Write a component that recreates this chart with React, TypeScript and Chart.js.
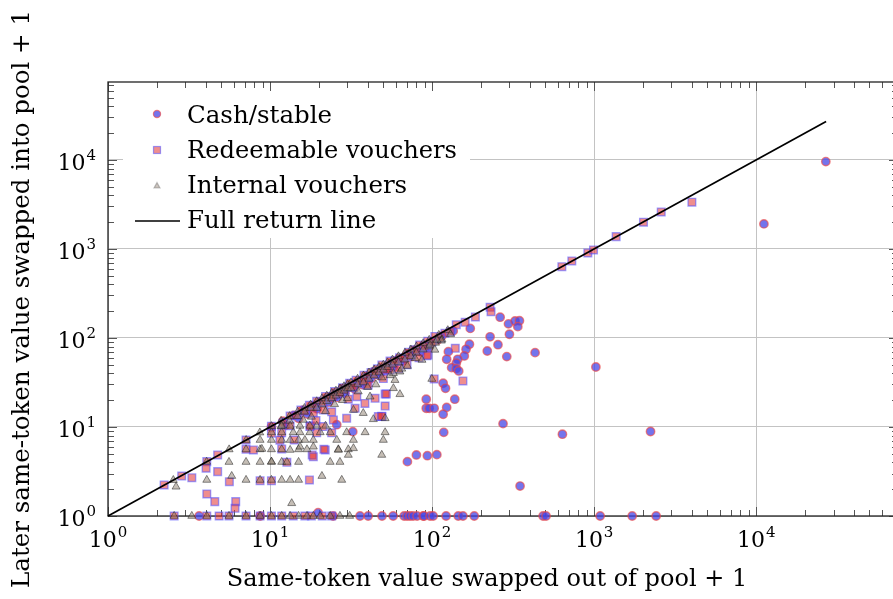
import React, { useEffect, useRef } from 'react';
import { Chart, registerables } from 'chart.js';

Chart.register(...registerables);

// ---------- axis / text ----------
const X_MIN = 1;
const X_MAX = 75000;
const Y_MIN = 1;
const Y_MAX = 75000;
const decadeExponents = [0, 1, 2, 3, 4];
const tickMultipliers = [1, 2, 3, 4, 5, 6, 7, 8, 9];
const xTitle = 'Same-token value swapped out of pool + 1';
const yTitle = 'Later same-token value swapped into pool + 1';
const legendLabels = ['Cash/stable', 'Redeemable vouchers', 'Internal vouchers', 'Full return line'];

// ---------- Cash/stable ----------
const cashOffLine: [number, number][] = [
  [263, 171], [296, 144], [325, 155], [346, 156], [338, 134], [172, 128], [300, 110], [228, 103],
  [255, 84], [219, 71.4], [289, 61.7], [432, 68.4], [170, 85], [162, 74.6], [126, 70.2], [158, 62.8],
  [144, 57.6], [123, 57.6], [141, 52], [132, 46.4], [141, 45.2], [146, 42.6], [117, 31], [121, 27.2],
  [92, 20.5], [138, 20.5], [92, 16.2], [96, 16.2], [103, 16.2], [123, 16.6], [117, 13.9], [118, 8.7],
  [274, 10.9], [1025, 47.2], [637, 8.3], [2228, 8.9], [70.4, 4.08], [80, 4.85], [93.5, 4.76], [107, 4.89],
  [349, 2.17], [26900, 9570], [11160, 1910], [32.4, 8.86], [25.8, 10.6], [19.8, 1.09],
];
const cashNearLine: [number, number][] = [
  [10.2, 10], [12, 11.6], [14, 13.5], [16, 15.5], [18, 17.3], [20, 19], [22.5, 21.5], [25, 24],
  [28, 27], [31, 29.5], [35, 33], [39, 37], [44, 42], [49, 46], [55, 52], [62, 58], [70, 66],
  [78, 73], [88, 82], [98, 90],
];
const cashBand: [number, number][] = [
  [12.5, 10.5], [15, 12.5], [17, 14], [19.5, 16], [23, 19], [26, 21.5], [29, 24], [33, 27], [37, 30],
  [42, 35], [47, 38], [53, 44], [58, 47], [66, 55], [75, 62], [85, 70], [95, 78], [108, 95], [115, 105],
  [135, 120],
];
const cashZeroReturnX = [
  3.65, 8.7, 24.5, 35.9, 40.3, 49.1, 57.5, 67.2, 70.1, 73.1, 76.3, 80.8, 88, 89.3, 97.2, 101.5,
  122, 145, 155, 182, 484, 505, 1089, 1717, 2414,
];

// ---------- Redeemable vouchers ----------
const redeemableOnLine: [number, number][] = [
  [2.22, 2.23], [2.85, 2.81], [4.07, 4.08], [4.75, 4.85], [7.11, 7.14], [10.2, 10.2], [13.3, 13.3],
  [15.5, 15.5], [17.5, 17.5], [19.4, 19.4], [22, 22], [25, 25], [28, 27.5], [31, 31], [34, 33.5],
  [38, 38], [42, 41], [46, 45], [49, 49.7], [55, 55], [63, 60], [71.5, 69], [76.9, 73.5], [83.8, 83.5],
  [94, 92], [104, 104], [120, 113], [141, 141], [228, 221], [231, 197], [632, 632], [728, 733],
  [914, 902], [991, 975], [1367, 1375], [2016, 1995], [2594, 2605], [4010, 3350],
];
const redeemableBand: [number, number][] = [
  [12, 11], [14.5, 13.5], [16.5, 15], [18.5, 16.5], [21, 19], [23.5, 21], [26, 23.5], [29, 26],
  [32, 28.5], [36, 32], [40, 36], [44, 39], [48, 42], [53, 47], [58, 51], [65, 58], [72, 63], [80, 71],
  [90, 80], [100, 90], [112, 100], [130, 118], [160, 150], [185, 172],
];
const redeemableOffLine: [number, number][] = [
  [3.29, 2.69], [4.07, 1.77], [4.56, 1.45], [6.14, 1.45], [6.08, 1.22], [4.75, 3.15], [4.03, 3.44],
  [5.61, 2.43], [7.11, 5.62], [8.68, 2.49], [10.2, 2.49], [10.2, 8.5], [17.5, 2.54], [12.7, 4.01],
  [21.9, 5.52], [18.2, 4.85], [11.8, 5.66], [7.89, 5.52], [11.8, 8.6], [13.3, 10.3], [17.8, 10.3],
  [21.1, 10.1], [24, 8.6], [14.1, 7.14], [19.4, 8.6], [18.5, 14.5], [24.6, 12], [30.4, 20.5],
  [33.5, 16.2], [39.5, 29.6], [51.3, 17.2], [48.9, 13.1], [51.3, 23.5], [55, 43.7], [44.5, 41.8],
  [30.4, 28], [24.6, 22], [11.5, 7.1], [21.5, 5.62], [24, 14.8], [21.3, 15.5], [29.7, 12.5],
  [34.3, 21.9], [38.5, 18.4], [44.5, 21], [46.6, 13.1], [40.3, 29.6], [32.7, 28.3], [18.5, 4.63],
  [94.3, 64.5], [139, 76.6], [155, 32.9], [103, 34.6], [93, 63], [52.2, 23.5], [48.9, 13.2], [50, 35],
  [83, 60], [70, 50], [62, 45], [38, 33], [27, 24], [17.6, 10.1], [19.2, 11.8], [52.5, 43.7], [59, 55.6],
];
const redeemableZeroReturnX = [2.56, 4.07, 4.85, 5.58, 7.11, 8.68, 10.2, 11.8, 13.9, 16.4, 18, 21, 24];

// ---------- Internal vouchers ----------
const internalOnLine: [number, number][] = [
  [2.53, 2.53], [4.06, 4.06], [5.59, 5.59], [7.12, 7.12], [8.65, 8.65], [10.2, 10.2], [11.7, 11.7],
  [13.2, 13.2], [14.8, 14.8], [16.3, 16.3], [17.8, 17.8], [19.4, 19.4], [20.9, 20.9], [22.4, 22.4],
  [24, 24], [25.5, 25.5], [27, 27], [28.6, 28.6], [30.1, 30.1], [31.6, 31.6], [34.7, 34.7], [37.7, 37.7],
  [40.8, 40.8], [43.9, 43.9], [47, 47], [50, 50], [53, 53], [57, 57], [62, 62], [68, 68], [74, 74],
  [80, 80], [88, 87], [96, 95], [110, 108], [125, 122],
];
const internalBelowLine: [number, number][] = [
  [11.7, 10.2], [13.2, 11.7], [14.8, 13.2], [16.3, 14.8], [17.8, 16.3], [19.4, 16.3], [20.9, 17.8],
  [22.4, 19.4], [24, 20.9], [25.5, 22.4], [27, 24], [28.6, 25.5], [30.1, 27], [31.6, 27], [34.7, 30.1],
  [37.7, 31.6], [40.8, 34.7], [43.9, 37.7], [47, 40.8], [50, 43.9], [53, 47], [57, 50], [62, 53],
  [68, 57], [74, 62], [80, 68], [88, 74], [96, 80], [105, 88], [115, 96], [130, 110],
];
const internalRows: [number, number][] = [
  [4.07, 2.54], [7.11, 2.54], [8.68, 2.54], [10.2, 2.54], [11.8, 2.54], [13.3, 2.54], [15, 2.54], [27.7, 2.54],
  [5.58, 4.04], [7.11, 4.04], [8.68, 4.04], [10.2, 4.04], [11.8, 4.04], [12.7, 4.04], [15, 4.04], [23.5, 4.04], [27, 4.04],
  [7.11, 5.6], [8.68, 5.6], [10.2, 5.6], [11.8, 5.6], [15, 5.6], [16.9, 5.6], [26.4, 5.6], [30.4, 5.6],
  [8.68, 7.14], [10.2, 7.14], [11.8, 7.14], [13.3, 7.14], [15, 7.14], [16.4, 7.14], [18.5, 7.14], [25.8, 7.14], [32.7, 7.14], [50, 7.14],
  [10.2, 8.7], [11.8, 8.7], [13.9, 8.7], [15.3, 8.7], [17.6, 8.7], [20.4, 8.7], [23.5, 8.7], [29.7, 8.7], [38.6, 8.7], [51.3, 8.7],
  [11.8, 10.3], [13.3, 10.3], [15.3, 10.3], [17.6, 10.3], [19.4, 10.3], [22, 10.3],
];
const internalScattered: [number, number][] = [
  [13.6, 1.39], [2.63, 2.13], [5.8, 2.81], [20.9, 2.81], [32.7, 5.76], [30.4, 4.85], [48.9, 4.85],
  [43.4, 12.2], [37.6, 14.3], [32.7, 15.5], [41.4, 21.9], [48.9, 35.9], [57.7, 27.2], [63.3, 23.3],
  [51.3, 12.5], [99.6, 34.6], [97, 83.5], [104, 73.5], [114, 93], [86.6, 56.6], [78.6, 59], [70.4, 48.4],
  [63.3, 41.8], [57.7, 40.2], [59, 33.6], [25, 18], [22, 15], [28, 20], [35, 25], [45, 30], [55, 38],
  [65, 45], [40, 28], [30, 21], [18, 13], [16, 12], [107, 95], [18.5, 6], [15.3, 6], [13.3, 5.52],
  [26.4, 5.52], [8.9, 5.66], [10.2, 4.08],
];
const internalZeroReturnX = [2.56, 3.29, 4.07, 5.58, 7.11, 8.68, 10.2, 11.8, 13.3, 15, 16.9, 18.5, 20.4, 23.5, 27, 31];

// ---------- Full return line ----------
const returnLine: [number, number][] = [[1, 1], [27000, 27000]];

// ---------- styles ----------
const SERIF = '"DejaVu Serif", "Liberation Serif", serif';
const cashStyle = { bg: 'rgba(70,70,230,0.75)', border: 'rgba(235,70,70,0.65)' };
const redeemStyle = { bg: 'rgba(225,50,50,0.55)', border: 'rgba(80,80,255,0.55)' };
const internalStyle = { bg: 'rgba(140,125,110,0.5)', border: 'rgba(30,30,30,0.5)' };

const toPts = (arr: [number, number][]) => arr.map(([x, y]) => ({ x, y }));
const zeroPts = (xs: number[]) => xs.map((x) => ({ x, y: 1 }));

function drawPow(ctx: CanvasRenderingContext2D, exp: string, x: number, baseline: number, align: 'center' | 'right') {
  const main = `22px ${SERIF}`;
  const sup = `15px ${SERIF}`;
  ctx.font = main;
  const w1 = ctx.measureText('10').width;
  ctx.font = sup;
  const w2 = ctx.measureText(exp).width;
  const total = w1 + 1 + w2;
  const start = align === 'center' ? x - total / 2 : x - total;
  ctx.textAlign = 'left';
  ctx.textBaseline = 'alphabetic';
  ctx.fillStyle = '#000';
  ctx.font = main;
  ctx.fillText('10', start, baseline);
  ctx.font = sup;
  ctx.fillText(exp, start + w1 + 1, baseline - 10);
}

const decorPlugin = {
  id: 'decor',
  beforeDatasetsDraw(chart: any) {
    const { ctx, chartArea: a, scales } = chart;
    const xs = scales.x;
    const ys = scales.y;
    ctx.save();
    ctx.strokeStyle = '#555';
    ctx.lineWidth = 1;
    for (const e of decadeExponents) {
      for (const m of tickMultipliers) {
        const v = m * Math.pow(10, e);
        const len = m === 1 ? 9 : 6;
        if (v >= X_MIN && v <= X_MAX) {
          const px = Math.round(xs.getPixelForValue(v)) + 0.5;
          ctx.beginPath();
          ctx.moveTo(px, a.bottom);
          ctx.lineTo(px, a.bottom - len);
          ctx.moveTo(px, a.top);
          ctx.lineTo(px, a.top + len);
          ctx.stroke();
        }
        if (v >= Y_MIN && v <= Y_MAX) {
          const py = Math.round(ys.getPixelForValue(v)) + 0.5;
          ctx.beginPath();
          ctx.moveTo(a.left, py);
          ctx.lineTo(a.left + len, py);
          ctx.moveTo(a.right, py);
          ctx.lineTo(a.right - len, py);
          ctx.stroke();
        }
      }
    }
    ctx.strokeStyle = '#222';
    ctx.lineWidth = 1.3;
    ctx.strokeRect(a.left, a.top, a.right - a.left, a.bottom - a.top);
    ctx.restore();
  },
  afterDatasetsDraw(chart: any) {
    const { ctx } = chart;
    ctx.save();
    // legend box
    ctx.fillStyle = '#fff';
    ctx.fillRect(123, 91, 347, 147);
    const mx = 157;
    const rows = [114, 150, 186, 221];
    ctx.lineWidth = 1.2;
    ctx.beginPath();
    ctx.arc(mx, rows[0], 3.6, 0, Math.PI * 2);
    ctx.fillStyle = cashStyle.bg;
    ctx.fill();
    ctx.strokeStyle = cashStyle.border;
    ctx.stroke();
    ctx.fillStyle = redeemStyle.bg;
    ctx.fillRect(mx - 3.5, rows[1] - 3.5, 7, 7);
    ctx.strokeStyle = redeemStyle.border;
    ctx.strokeRect(mx - 3.5, rows[1] - 3.5, 7, 7);
    ctx.beginPath();
    ctx.moveTo(mx, rows[2] - 3.5);
    ctx.lineTo(mx + 3, rows[2] + 2);
    ctx.lineTo(mx - 3, rows[2] + 2);
    ctx.closePath();
    ctx.fillStyle = 'rgba(140,125,110,0.45)';
    ctx.fill();
    ctx.strokeStyle = 'rgba(60,60,60,0.3)';
    ctx.stroke();
    ctx.beginPath();
    ctx.moveTo(135, rows[3]);
    ctx.lineTo(180, rows[3]);
    ctx.strokeStyle = '#000';
    ctx.lineWidth = 1.7;
    ctx.stroke();
    ctx.fillStyle = '#000';
    ctx.font = `25px ${SERIF}`;
    ctx.textAlign = 'left';
    ctx.textBaseline = 'alphabetic';
    const baselines = [123, 158, 193, 228];
    legendLabels.forEach((t, i) => {
      ctx.save();
      const w = ctx.measureText(t).width;
      const target = i === 1 ? 270 : w * 0.98;
      ctx.translate(187, baselines[i]);
      ctx.scale(Math.min(1, target / w), 1);
      ctx.fillText(t, 0, 0);
      ctx.restore();
    });
    ctx.restore();
  },
  afterDraw(chart: any) {
    const { ctx, chartArea: a, scales } = chart;
    ctx.save();
    for (const e of decadeExponents) {
      const v = Math.pow(10, e);
      const px = scales.x.getPixelForValue(v);
      drawPow(ctx, String(e), px, a.bottom + 31, 'center');
      const py = scales.y.getPixelForValue(v);
      drawPow(ctx, String(e), a.left - 12, py + 10, 'right');
    }
    // axis titles
    ctx.fillStyle = '#000';
    ctx.font = `24px ${SERIF}`;
    ctx.textAlign = 'center';
    ctx.textBaseline = 'alphabetic';
    ctx.fillText(xTitle, 487, 586);
    ctx.save();
    ctx.translate(29, (a.top + a.bottom) / 2);
    ctx.rotate(-Math.PI / 2);
    ctx.font = `24.5px ${SERIF}`;
    ctx.fillText(yTitle, 0, 0);
    ctx.restore();
    ctx.restore();
  },
};

const gridColor = (c: any) => {
  const v = c.tick ? c.tick.value : 0;
  const l = Math.log10(v);
  return Math.abs(l - Math.round(l)) < 1e-6 ? 'rgba(195,195,195,1)' : 'rgba(0,0,0,0)';
};

export default function App() {
  const ref = useRef<HTMLCanvasElement | null>(null);
  useEffect(() => {
    if (!ref.current) return;
    const chart = new Chart(ref.current, {
      type: 'scatter',
      data: {
        datasets: [
          {
            label: legendLabels[3],
            data: toPts(returnLine),
            showLine: true,
            borderColor: '#000',
            borderWidth: 1.7,
            pointRadius: 0,
            order: 0,
            clip: false as any,
          },
          {
            label: legendLabels[2],
            data: [...toPts(internalOnLine), ...toPts(internalBelowLine), ...toPts(internalRows), ...toPts(internalScattered), ...zeroPts(internalZeroReturnX)],
            pointStyle: 'triangle',
            pointRadius: 4.6,
            backgroundColor: internalStyle.bg,
            borderColor: internalStyle.border,
            borderWidth: 1,
            order: 1,
            clip: false as any,
          },
          {
            label: legendLabels[1],
            data: [...toPts(redeemableOnLine), ...toPts(redeemableBand), ...toPts(redeemableOffLine), ...zeroPts(redeemableZeroReturnX)],
            pointStyle: 'rect',
            pointRadius: 5.4,
            backgroundColor: redeemStyle.bg,
            borderColor: redeemStyle.border,
            borderWidth: 1.4,
            order: 2,
            clip: false as any,
          },
          {
            label: legendLabels[0],
            data: [...toPts(cashOffLine), ...toPts(cashNearLine), ...toPts(cashBand), ...zeroPts(cashZeroReturnX)],
            pointStyle: 'circle',
            pointRadius: 4.2,
            backgroundColor: cashStyle.bg,
            borderColor: cashStyle.border,
            borderWidth: 1.4,
            order: 3,
            clip: false as any,
          },
        ],
      },
      options: {
        responsive: false,
        animation: false,
        events: [],
        layout: { autoPadding: false, padding: { left: 0, top: 82, right: 0, bottom: 0 } },
        plugins: { legend: { display: false }, tooltip: { enabled: false } },
        scales: {
          x: {
            type: 'logarithmic',
            min: X_MIN,
            max: X_MAX,
            ticks: { display: false },
            grid: { color: gridColor, drawTicks: false, lineWidth: 1 },
            border: { display: false },
            title: { display: false, text: xTitle },
            afterFit: (s: any) => { s.height = 83; },
          },
          y: {
            type: 'logarithmic',
            min: Y_MIN,
            max: Y_MAX,
            ticks: { display: false },
            grid: { color: gridColor, drawTicks: false, lineWidth: 1 },
            border: { display: false },
            title: { display: false, text: yTitle },
            afterFit: (s: any) => { s.width = 108; },
          },
        },
      } as any,
      plugins: [decorPlugin],
    });
    return () => chart.destroy();
  }, []);
  return (
    <div style={{ position: 'fixed', left: 0, top: 0, width: 893, height: 599, overflow: 'hidden', background: '#fff' }}>
      <canvas ref={ref} width={898} height={599} style={{ display: 'block' }} />
    </div>
  );
}
